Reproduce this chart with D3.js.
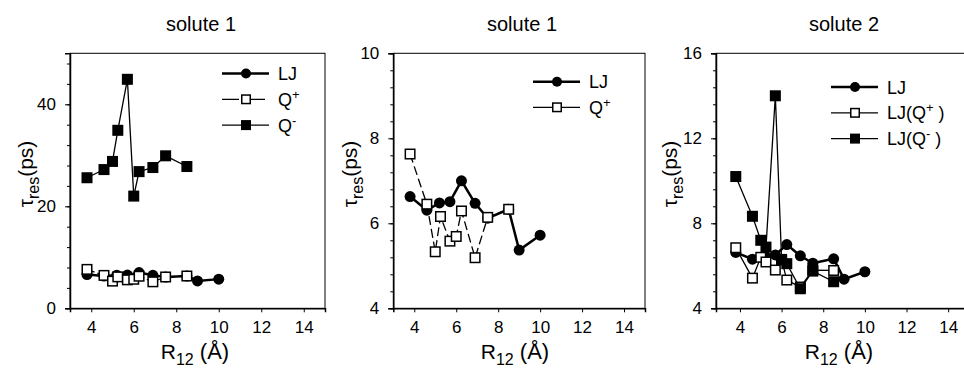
<!DOCTYPE html>
<html>
<head>
<meta charset="utf-8">
<script src="https://cdn.jsdelivr.net/npm/d3@7"></script>
<style>
body { margin: 0; background: white; }
text { font-family: "Liberation Sans", Arial, Helvetica, sans-serif; fill: black; }
</style>
</head>
<body>
<div id="chart"></div>
<script>
// R12 distances (Angstrom) for each series
var rLJ = [3.8, 4.6, 5.2, 5.7, 6.25, 6.9, 7.5, 8.5, 9.0, 10.0];
var rQ  = [3.8, 4.6, 5.0, 5.25, 5.7, 6.0, 6.25, 6.9, 7.5, 8.5];

// residence times tau_res (ps)
var tauLJ      = [6.63, 6.31, 6.48, 6.51, 7.0, 6.47, 6.12, 6.33, 5.37, 5.72];
var tauQplus1  = [7.63, 6.45, 5.33, 6.16, 5.58, 5.69, 6.29, 5.19, 6.14, 6.33];
var tauQminus1 = [25.6, 27.2, 28.8, 34.9, 44.9, 22.0, 26.8, 27.6, 29.9, 27.8];
var tauQplus2  = [6.85, 5.42, 6.4, 6.18, 5.8, 6.3, 5.33, 5.0, 5.8, 5.78];
var tauQminus2 = [10.2, 8.33, 7.2, 6.88, 14.0, 6.28, 6.1, 4.92, 5.75, 5.25];

// tick labels
var xTicks = [4, 6, 8, 10, 12, 14];
var yTicks1 = [0, 20, 40];
var yTicks2 = [4, 6, 8, 10];
var yTicks3 = [4, 8, 12, 16];

var titles = ["solute 1", "solute 1", "solute 2"];

var width = 964, height = 371;
var plotTop = 53.3, plotBottom = 308.3;

var svg = d3.select("#chart")
    .append("svg")
    .attr("width", width)
    .attr("height", height);

function zip(xs, ys) {
    return xs.map(function(x, i) { return [x, ys[i]]; });
}

// legend label with a superscript charge sign
function legendText(sel, parts) {
    parts.forEach(function(p) {
        if (p.sup) {
            sel.append("tspan").attr("dy", -7).attr("font-size", 13).text(p.sup);
            sel.append("tspan").attr("dy", 7).text(p.after || "");
        } else {
            sel.append("tspan").text(p.t);
        }
    });
}

function buildPanel(cfg) {
    var x = d3.scaleLinear().domain(cfg.xDomain).range([cfg.left, cfg.right]);
    var y = d3.scaleLinear().domain(cfg.yDomain).range([plotBottom, plotTop]);
    var g = svg.append("g");

    // frame
    g.append("rect")
        .attr("x", cfg.left).attr("y", plotTop)
        .attr("width", cfg.right - cfg.left).attr("height", plotBottom - plotTop)
        .attr("fill", "none").attr("stroke", "black").attr("stroke-width", 1);

    // x axis
    var xAxis = g.append("g")
        .attr("transform", "translate(0," + plotBottom + ")")
        .call(d3.axisBottom(x).tickValues(xTicks).tickSize(4).tickPadding(9).tickFormat(d3.format("d")));
    xAxis.select(".domain").attr("stroke-width", 1.5);
    xAxis.selectAll("text").attr("font-size", 17).attr("font-family", null);

    // y minor ticks
    var minor = d3.range(cfg.yDomain[0], cfg.yDomain[1] + 1e-6, cfg.minorStep);
    g.append("g")
        .attr("transform", "translate(" + cfg.left + ",0)")
        .call(d3.axisLeft(y).tickValues(minor).tickSize(3).tickFormat(""))
        .select(".domain").remove();

    // y axis
    var yAxis = g.append("g")
        .attr("transform", "translate(" + cfg.left + ",0)")
        .call(d3.axisLeft(y).tickValues(cfg.yTicks).tickSize(5).tickPadding(9).tickFormat(d3.format("d")));
    yAxis.select(".domain").attr("stroke-width", 1.5);
    yAxis.selectAll("text").attr("font-size", 17).attr("font-family", null);

    // title
    g.append("text")
        .attr("x", cfg.titleX).attr("y", 31)
        .attr("text-anchor", "middle").attr("font-size", 20)
        .text(cfg.title);

    // x label R12 (Å)
    var xl = g.append("text")
        .attr("x", cfg.xLabelX).attr("y", 359)
        .attr("text-anchor", "middle").attr("font-size", 21);
    xl.append("tspan").text("R");
    xl.append("tspan").attr("dy", 6).attr("font-size", 16).text("12");
    xl.append("tspan").attr("dy", -6).attr("font-size", 22).text(" (Å)");

    // y label tau_res(ps)
    var yl = g.append("text")
        .attr("transform", "translate(" + cfg.yLabelX + ",174) rotate(-90)")
        .attr("text-anchor", "middle").attr("font-size", 21);
    yl.append("tspan").text("τ");
    yl.append("tspan").attr("dy", 6).attr("font-size", 16).text("res");
    yl.append("tspan").attr("dy", -6).text("(ps)");

    var line = d3.line().x(function(d) { return x(d[0]); }).y(function(d) { return y(d[1]); });

    cfg.series.forEach(function(s, i) {
        var pts = zip(s.xs, s.ys);
        g.append("path")
            .attr("d", line(pts))
            .attr("fill", "none").attr("stroke", "black")
            .attr("stroke-width", s.lw)
            .attr("stroke-dasharray", s.dash || null);
        drawMarkers(g, pts.map(function(d) { return [x(d[0]), y(d[1])]; }), s.marker, 5.5, 9.5);

        // legend row
        var ly = cfg.legendY + i * cfg.legendStep;
        g.append("line")
            .attr("x1", cfg.legendX).attr("x2", cfg.legendX + 47)
            .attr("y1", ly).attr("y2", ly)
            .attr("stroke", "black").attr("stroke-width", s.lw)
            .attr("stroke-dasharray", s.legendDash || null);
        drawMarkers(g, [[cfg.legendX + 24, ly]], s.marker, 5, 8.5);
        var t = g.append("text")
            .attr("x", cfg.legendX + 56).attr("y", ly + 6.5)
            .attr("font-size", 18);
        legendText(t, s.label);
    });
}

function drawMarkers(g, pts, kind, r, side) {
    if (kind == "circle") {
        g.selectAll(null).data(pts).enter().append("circle")
            .attr("cx", function(d) { return d[0]; })
            .attr("cy", function(d) { return d[1]; })
            .attr("r", r).attr("fill", "black");
    } else {
        g.selectAll(null).data(pts).enter().append("rect")
            .attr("x", function(d) { return d[0] - side / 2; })
            .attr("y", function(d) { return d[1] - side / 2; })
            .attr("width", side).attr("height", side)
            .attr("fill", kind == "open" ? "white" : "black")
            .attr("stroke", "black").attr("stroke-width", 1.5);
    }
}

buildPanel({
    left: 70, right: 325, xDomain: [3, 15], yDomain: [0, 50], yTicks: yTicks1, minorStep: 4,
    title: titles[0], titleX: 201, xLabelX: 195, yLabelX: 33,
    legendX: 222, legendY: 73.5, legendStep: 25.8,
    series: [
        { xs: rLJ, ys: tauLJ, marker: "circle", lw: 2.5, label: [{ t: "LJ" }] },
        { xs: rQ, ys: tauQplus1, marker: "open", lw: 1.3, dash: "8,3", legendDash: "17,12,14,4",
          label: [{ t: "Q" }, { sup: "+" }] },
        { xs: rQ, ys: tauQminus1, marker: "filled", lw: 1.3, label: [{ t: "Q" }, { sup: "-" }] }
    ]
});

buildPanel({
    left: 393.3, right: 645, xDomain: [3, 15], yDomain: [4, 10], yTicks: yTicks2, minorStep: 0.4,
    title: titles[1], titleX: 522, xLabelX: 515, yLabelX: 357,
    legendX: 533, legendY: 81.7, legendStep: 25.6,
    series: [
        { xs: rLJ, ys: tauLJ, marker: "circle", lw: 2.5, label: [{ t: "LJ" }] },
        { xs: rQ, ys: tauQplus1, marker: "open", lw: 1.3, dash: "9,4",
          label: [{ t: "Q" }, { sup: "+" }] }
    ]
});

buildPanel({
    left: 716, right: 969, xDomain: [2.85, 15], yDomain: [4, 16], yTicks: yTicks3, minorStep: 0.8,
    title: titles[2], titleX: 844, xLabelX: 839, yLabelX: 677,
    legendX: 831, legendY: 87, legendStep: 25.8,
    series: [
        { xs: rLJ, ys: tauLJ, marker: "circle", lw: 2.5, label: [{ t: "LJ" }] },
        { xs: rQ, ys: tauQplus2, marker: "open", lw: 1.3, label: [{ t: "LJ(Q" }, { sup: "+", after: " )" }] },
        { xs: rQ, ys: tauQminus2, marker: "filled", lw: 1.3, label: [{ t: "LJ(Q" }, { sup: "-", after: " )" }] }
    ]
});
</script>
</body>
</html>
